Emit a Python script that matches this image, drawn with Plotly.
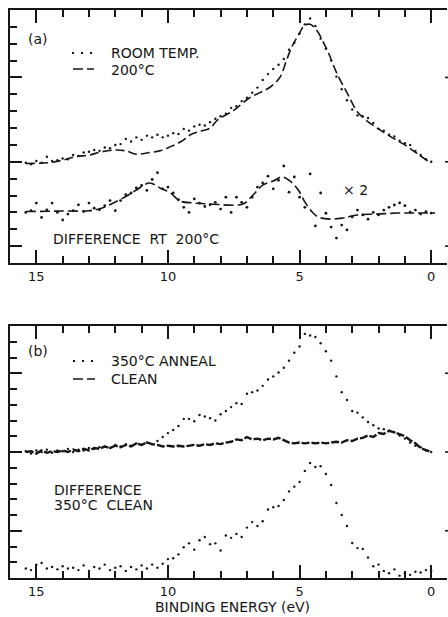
import plotly.graph_objects as go

# ---------------- data ----------------
# common energy grid of the dotted / noisy spectra (eV)
E_GRID = [15.4, 15.2, 15.0, 14.8, 14.6, 14.4, 14.2, 14.0, 13.8, 13.6, 13.4, 13.2, 13.0,
          12.8, 12.6, 12.4, 12.2, 12.0, 11.8, 11.6, 11.4, 11.2, 11.0, 10.8, 10.6, 10.4,
          10.2, 10.0, 9.8, 9.6, 9.4, 9.2, 9.0, 8.8, 8.6, 8.4, 8.2, 8.0, 7.8, 7.6, 7.4,
          7.2, 7.0, 6.8, 6.6, 6.4, 6.2, 6.0, 5.8, 5.6, 5.4, 5.2, 5.0, 4.8, 4.6, 4.4,
          4.2, 4.0, 3.8, 3.6, 3.4, 3.2, 3.0, 2.8, 2.6, 2.4, 2.2, 2.0, 1.8, 1.6, 1.4,
          1.2, 1.0, 0.8, 0.6, 0.4, 0.2, 0.0]

# panel (a): room temperature spectrum (dots)
room_temp = [5.95, 5.85, 6.05, 5.95, 6.3, 6.05, 6.1, 6.2, 6.15, 6.4, 6.35, 6.55, 6.6,
             6.7, 6.65, 6.85, 6.8, 7.0, 7.05, 7.35, 7.2, 7.45, 7.3, 7.55, 7.45, 7.6,
             7.45, 7.55, 7.7, 7.65, 7.95, 7.85, 8.1, 8.2, 8.15, 8.35, 8.55, 8.7, 8.85,
             9.2, 9.3, 9.6, 9.8, 10.1, 10.4, 10.85, 11.2, 11.5, 11.75, 12.1, 12.65, 13.05,
             13.6, 14.15, 14.5, 14.05, 13.3, 12.7, 12.0, 11.05, 10.3, 9.65, 9.1, 8.75,
             8.7, 8.6, 8.3, 7.95, 7.85, 7.6, 7.5, 7.25, 7.1, 7.0, 6.65, 6.4, 6.15, 6.0]

# panel (a): 200 C spectrum (dashed)
E_200 = [15.4, 14.5, 14.0, 13.5, 13.0, 12.5, 12.0, 11.6, 11.2, 10.7, 10.3, 9.9, 9.5,
         9.15, 8.8, 8.4, 8.1, 7.5, 6.9, 6.5, 6.1, 5.75, 5.5, 5.3, 5.05, 4.8, 4.6, 4.35,
         4.1, 3.9, 3.6, 3.2, 2.8, 2.5, 2.0, 1.5, 1.0, 0.5, 0.0]
temp_200 = [5.9, 5.95, 6.1, 6.3, 6.4, 6.6, 6.7, 6.65, 6.45, 6.55, 6.65, 6.9, 7.2,
            7.6, 7.8, 8.0, 8.5, 9.05, 9.8, 10.1, 10.45, 11.0, 12.0, 12.8, 13.5, 14.1,
            14.15, 13.8, 13.1, 12.45, 11.3, 10.1, 8.95, 8.5, 7.95, 7.45, 7.0, 6.45, 5.9]

# panel (a): difference RT - 200 C (dots, x2) and its smoothed curve (dashed)
diff_a = [3.0, 3.1, 3.55, 2.7, 3.15, 3.55, 3.0, 2.55, 2.9, 3.1, 3.45, 3.05, 3.55,
          3.25, 3.15, 3.4, 3.7, 3.1, 3.7, 4.05, 4.15, 4.45, 4.6, 4.3, 4.95, 5.35,
          4.4, 4.5, 4.15, 3.75, 3.3, 3.0, 3.8, 3.55, 3.35, 3.45, 3.6, 3.2, 3.9,
          3.0, 3.9, 3.6, 3.3, 3.9, 4.5, 4.75, 5.15, 4.4, 4.9, 5.75, 4.2, 5.1, 3.9,
          3.3, 5.28, 2.2, 4.15, 2.95, 2.13, 1.48, 2.25, 1.96, 2.73, 3.14, 2.85, 2.6,
          3.0, 2.85, 3.14, 3.3, 3.44, 3.56, 3.4, 3.02, 3.14, 2.9, 3.05, 2.96]
E_fit_a = [15.4, 14.0, 13.0, 12.5, 12.0, 11.5, 11.2, 10.7, 10.3, 9.9, 9.55, 9.05, 8.4,
           7.15, 6.77, 6.4, 6.0, 5.67, 5.36, 5.05, 4.8, 4.52, 4.3, 3.84, 3.35, 2.8,
           2.05, 1.3, 0.55, -0.15]
fit_a = [3.05, 3.08, 3.1, 3.26, 3.62, 4.03, 4.33, 4.74, 4.45, 4.15, 3.68, 3.56, 3.5,
         3.5, 4.03, 4.62, 4.86, 5.1, 4.86, 4.33, 3.62, 3.02, 2.73, 2.6, 2.67, 2.85,
         2.9, 2.96, 2.96, 2.96]

# panel (b): 350 C anneal (dots) and clean (dashed, noisy)
anneal_350 = [8.05, 7.9, 8.1, 8.0, 8.15, 7.95, 8.1, 8.05, 8.2, 8.0, 8.15, 8.1, 8.25,
              8.2, 8.3, 8.35, 8.25, 8.45, 8.35, 8.5, 8.4, 8.55, 8.45, 8.6, 8.5, 8.7,
              8.95, 9.2, 9.4, 9.65, 10.1, 10.1, 9.95, 10.35, 10.25, 10.15, 10.0, 10.4,
              10.6, 10.85, 11.1, 11.05, 11.7, 11.8, 11.9, 12.2, 12.6, 12.8, 13.05,
              13.35, 13.8, 14.3, 14.7, 15.5, 15.4, 15.3, 14.9, 14.4, 13.8, 12.8, 11.8,
              11.3, 10.6, 10.5, 10.2, 9.9, 9.7, 9.5, 9.45, 9.35, 9.25, 9.05, 8.85, 8.6,
              8.4, 8.3, 8.1, 8.0]
clean = [8.0, 8.05, 7.9, 8.1, 7.95, 8.05, 8.0, 8.1, 8.0, 8.15, 8.05, 8.2, 8.1, 8.25,
         8.2, 8.35, 8.25, 8.4, 8.3, 8.45, 8.35, 8.55, 8.45, 8.6, 8.5, 8.45, 8.35, 8.4,
         8.35, 8.4, 8.35, 8.4, 8.45, 8.4, 8.5, 8.45, 8.55, 8.5, 8.6, 8.65, 8.8, 8.75,
         8.95, 8.8, 8.85, 8.75, 8.85, 8.8, 8.9, 8.75, 8.6, 8.55, 8.6, 8.55, 8.6, 8.55,
         8.6, 8.55, 8.6, 8.65, 8.6, 8.75, 8.7, 8.85, 8.9, 9.05, 8.95, 9.2, 9.15, 9.35,
         9.25, 9.1, 9.0, 8.75, 8.55, 8.25, 8.1, 8.0]

# panel (b): difference 350 C - clean (dots)
diff_b = [0.6, 0.5, 0.85, 0.95, 0.6, 0.7, 0.55, 0.75, 0.6, 0.65, 0.5, 0.8, 0.45, 0.7,
          0.6, 0.85, 0.5, 0.65, 0.75, 0.45, 0.7, 0.55, 0.8, 0.6, 0.85, 0.65, 0.9,
          1.2, 1.25, 1.5, 1.95, 2.2, 1.8, 2.4, 2.6, 2.15, 2.2, 1.75, 2.7, 2.55, 2.8,
          2.6, 3.2, 3.55, 3.3, 3.6, 4.35, 4.5, 4.57, 4.95, 5.5, 5.8, 6.1, 6.8, 7.3,
          7.05, 7.1, 6.6, 5.9, 4.76, 4.0, 3.3, 2.22, 1.9, 1.84, 1.3, 0.75, 0.85,
          0.45, 0.3, 0.55, 0.15, 0.3, 0.2, 0.4, 0.35, 0.5, 0.45]

X_TICKS = [15, 10, 5, 0]

# ---------------- styling ----------------
W, H = 448, 617
INK = "#161616"
FONT = "DejaVu Sans"


def fx(px):
    return px / W


def fy(py):
    return 1 - py / H


fig = go.Figure()

dot = dict(size=2.4, color=INK, symbol="circle")

fig.add_trace(go.Scatter(x=E_GRID, y=room_temp, mode="markers", marker=dot,
                         xaxis="x", yaxis="y"))
fig.add_trace(go.Scatter(x=E_200, y=temp_200, mode="lines", line_shape="spline",
                         line=dict(color=INK, width=1.6, dash="9px,4px"),
                         xaxis="x", yaxis="y"))
fig.add_trace(go.Scatter(x=E_GRID, y=diff_a, mode="markers", marker=dict(dot, size=2.8),
                         xaxis="x", yaxis="y"))
fig.add_trace(go.Scatter(x=E_fit_a, y=fit_a, mode="lines", line_shape="spline",
                         line=dict(color=INK, width=1.6, dash="10px,4px"),
                         xaxis="x", yaxis="y"))

fig.add_trace(go.Scatter(x=E_GRID, y=clean, mode="lines",
                         line=dict(color=INK, width=2.4, dash="8px,2px"),
                         xaxis="x2", yaxis="y2"))
fig.add_trace(go.Scatter(x=E_GRID, y=anneal_350, mode="markers", marker=dot,
                         xaxis="x2", yaxis="y2"))
fig.add_trace(go.Scatter(x=E_GRID, y=diff_b, mode="markers", marker=dot,
                         xaxis="x2", yaxis="y2"))

xdom = [fx(10), fx(447)]
xcommon = dict(range=[16.0, -0.6], domain=xdom, showline=True, linewidth=2,
               linecolor=INK, mirror="ticks", ticks="inside", ticklen=13,
               tickwidth=1.6, tickcolor=INK, tickvals=X_TICKS,
               ticktext=[str(v) for v in X_TICKS],
               minor=dict(dtick=1, tick0=0, ticks="inside", ticklen=7,
                          tickwidth=1.6, tickcolor=INK),
               showgrid=False, zeroline=False,
               tickfont=dict(family=FONT, size=13, color=INK))
ycommon = dict(showline=True, linewidth=2, linecolor=INK, mirror=False,
               ticks="inside", ticklen=12, tickwidth=1.6, tickcolor=INK,
               dtick=5, showticklabels=False, showgrid=False, zeroline=False,
               minor=dict(dtick=1, tick0=0, ticks="inside", ticklen=7,
                          tickwidth=1.6, tickcolor=INK))

fig.update_layout(
    width=W, height=H,
    margin=dict(l=0, r=0, t=0, b=0),
    paper_bgcolor="white", plot_bgcolor="white",
    showlegend=False,
    xaxis=dict(xcommon, anchor="y"),
    yaxis=dict(ycommon, domain=[fy(263), fy(10)], range=[0, 15], tick0=1, anchor="x"),
    xaxis2=dict(xcommon, anchor="y2"),
    yaxis2=dict(ycommon, domain=[fy(578), fy(326)], range=[0, 16], tick0=3, anchor="x2"),
)

# right-hand tick stubs (the right frame lies just outside the picture)
shapes = []
for yv in [1, 6, 11]:
    shapes.append(dict(type="line", xref="paper", yref="y", x0=fx(445), x1=1,
                       y0=yv, y1=yv, line=dict(color=INK, width=1.6)))
for yv in [3, 8, 13]:
    shapes.append(dict(type="line", xref="paper", yref="y2", x0=fx(445), x1=1,
                       y0=yv, y1=yv, line=dict(color=INK, width=1.6)))

# legend keys
def key(x0, x1, py, dash, width):
    return dict(type="line", xref="paper", yref="paper", x0=fx(x0), x1=fx(x1),
                y0=fy(py), y1=fy(py), line=dict(color=INK, width=width, dash=dash))

shapes += [key(72, 95, 53, "2px,7px", 2.2), key(73, 94, 69, "10px,4px", 1.6),
           key(73, 96, 361, "2px,7px", 2.2), key(73, 95, 379, "10px,4px", 1.6)]
fig.update_layout(shapes=shapes)


def label(text, px, py, anchor="left", size=14):
    fig.add_annotation(text=text, x=fx(px), y=fy(py), xref="paper", yref="paper",
                       xanchor=anchor, yanchor="middle", showarrow=False,
                       font=dict(family=FONT, size=size, color=INK))


label("(a)", 26, 39)
label("ROOM TEMP.", 109, 53)
label("200°C", 109, 70)
label("DIFFERENCE\u00a0 RT\u00a0 200°C", 51, 239)
label("× 2", 341, 190)
label("(b)", 26, 351)
label("350°C ANNEAL", 109, 361)
label("CLEAN", 109, 379)
label("DIFFERENCE", 52, 490)
label("350°C\u00a0 CLEAN", 52, 505)
label("BINDING ENERGY (eV)", 232, 607, anchor="center")

fig.write_html("out.html")
